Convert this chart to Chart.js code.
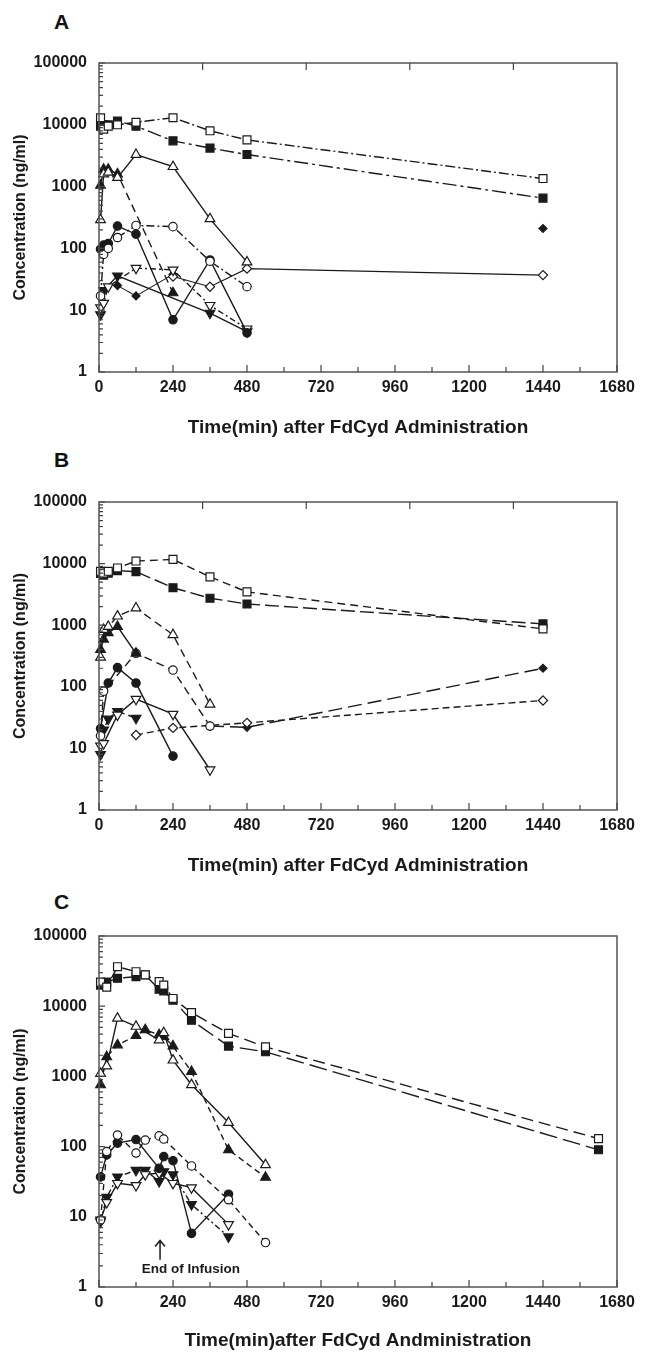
<!DOCTYPE html>
<html><head><meta charset="utf-8">
<script src="https://cdn.jsdelivr.net/npm/chart.js@4.4.0/dist/chart.umd.min.js"></script>
<style>
body{margin:0;background:#fff;width:645px;height:1353px;position:relative;overflow:hidden;font-family:"Liberation Sans",Arial,sans-serif;}
canvas{position:absolute;left:0;}
.lbl{position:absolute;font-weight:bold;font-size:21px;line-height:21px;color:#111;}
</style></head><body>
<div class="lbl" style="left:54px;top:11px">A</div>
<div class="lbl" style="left:54px;top:449px">B</div>
<div class="lbl" style="left:54px;top:891px">C</div>
<canvas id="cA" width="645" height="440" style="top:0px"></canvas>
<canvas id="cB" width="645" height="440" style="top:440px"></canvas>
<canvas id="cC" width="645" height="473" style="top:880px"></canvas>
<script>
// ---------- axis ticks ----------
const TICK_X = [0, 240, 480, 720, 960, 1200, 1440, 1680];
const MINOR_X = [120, 360, 600, 840, 1080, 1320, 1560];
const TOP_TICKS = [336, 672, 1008, 1344];
const TICK_Y = [1, 10, 100, 1000, 10000, 100000];
const MINOR_MULT = [2, 3, 4, 5, 6, 7, 8, 9];

// ---------- Panel A ----------
const timeA = [5, 15, 30, 60, 120, 240, 360, 480, 1440];
const aOpenSquare   = [13000, 8500, 9500, 10000, 11000, 13000, 8000, 5700, 1350];
const aFilledSquare = [9500, 10000, 10000, 11500, 9500, 5500, 4200, 3300, 650];
const aOpenTri      = [290, 1600, 1700, 1400, 3300, 2100, 300, 60, null];
const aFilledTri    = [1050, 1900, 1900, 1600, null, 19, null, null, null];
const aOpenCircle   = [17, 80, 100, 150, 235, 225, 62, 24, null];
const aFilledCircle = [97, 113, 120, 230, 170, 7, 65, 4.3, null];
const aOpenDown     = [11, 13, 24, null, 48, 45, 12, 5, null];
const aFilledDown   = [8.5, 21, null, 36, null, null, 9, 4.5, null];
const aOpenDiamond  = [null, null, null, null, null, 35, 24, 47, 37];
const aFilledDiamond= [null, null, null, 25, 17, 38, null, null, 210];

// ---------- Panel B ----------
const timeB = [5, 15, 30, 60, 120, 240, 360, 480, 1440];
const bOpenSquare   = [7500, 7000, 7500, 8500, 11000, 11700, 6100, 3470, 870];
const bFilledSquare = [6900, 6500, 7000, 7700, 7400, 4060, 2740, 2210, 1050];
const bOpenTri      = [300, 850, 950, 1400, 1900, 700, 52, null, null];
const bFilledTri    = [400, 590, 750, 950, 350, null, null, null, null];
const bOpenCircle   = [16, 85, null, null, 350, 187, 23, null, null];
const bFilledCircle = [21, null, 115, 205, 115, 7.5, null, null, null];
const bOpenDown     = [11, 12, null, 35, 63, 36, 4.5, null, null];
const bFilledDown   = [8, 20, 30, 40, 31, null, null, null, null];
const bOpenDiamond  = [null, null, null, null, 16.5, 21.5, null, 26, 60];
const bFilledDiamond= [null, null, null, null, null, null, 23, 22, 200];

// ---------- Panel C ----------
const timeC = [5, 25, 60, 120, 150, 195, 210, 240, 300, 420, 540, 1620];
const cOpenSquare   = [22000, 18700, 36500, 31000, 28000, 22400, 20000, 12900, 8100, 4100, 2630, 130];
const cFilledSquare = [20000, 22000, 25000, 26300, 27800, 17400, 16500, 12200, 6300, 2700, 2240, 90];
const cOpenTri      = [1100, 1400, 6700, 5150, null, 3300, 4180, 1700, 760, 220, 55, null];
const cFilledTri    = [760, 1900, 2800, 3800, 4600, 3900, 3700, 2700, 1170, 90, 36.5, null];
const cOpenCircle   = [9, 85, 146, 81, 124, 142, 128, null, 53, 17.5, 4.3, null];
const cFilledCircle = [37, 76, 112, 126, null, 49, 72, 63, 5.8, 21, null, null];
const cFilledDown   = [8.5, 19, 37, 46, 46, 32, 44, 40, 15, 5.2, null, null];
const cOpenDown     = [9, 16, 30, 28, 40, 42, null, 30, 26, 7.8, null, null];

// annotation (data units)
const INFUSION_END = 198;
const ARROW_TIP = 4.6, ARROW_BASE = 2.45;
const NOTE_T = 298, NOTE_V = 1.8;

const FF = "'Liberation Sans', Arial, sans-serif";
const INK = '#1a1a1a';

function ser(xs, ys, shape, filled, dash, opt) {
  opt = opt || {};
  const r = {rect: 5.6, circle: 4.2, triangle: 5.6, rectRot: 4.6}[shape];
  return {
    data: xs.map((t, i) => ({x: t, y: ys[i]})),
    pointStyle: shape,
    rotation: opt.rot || 0,
    pointRadius: opt.r || r,
    pointBorderWidth: 1.2,
    pointBorderColor: INK,
    pointBackgroundColor: filled ? INK : '#fff',
    borderColor: INK,
    borderWidth: opt.w || 1.4,
    borderDash: dash,
    spanGaps: opt.span === undefined ? true : opt.span,
    fill: false,
    tension: 0,
    clip: false
  };
}

const frameTicks = {
  id: 'frameTicks',
  afterDraw(chart, args, o) {
    const {ctx, chartArea: {left, right, top, bottom}, scales: {x, y}} = chart;
    ctx.save();
    ctx.strokeStyle = '#555';
    ctx.lineWidth = 1.5;
    ctx.strokeRect(left, top, right - left, bottom - top);
    ctx.lineWidth = 1.2;
    ctx.strokeStyle = '#444';
    ctx.beginPath();
    TICK_X.forEach(v => { const p = x.getPixelForValue(v); ctx.moveTo(p, bottom); ctx.lineTo(p, bottom - 7); });
    MINOR_X.forEach(v => { const p = x.getPixelForValue(v); ctx.moveTo(p, bottom); ctx.lineTo(p, bottom - 5); });
    if (o.top) TOP_TICKS.forEach(v => { const p = x.getPixelForValue(v); ctx.moveTo(p, top); ctx.lineTo(p, top + 7); });
    TICK_Y.forEach((d, i) => {
      const p = y.getPixelForValue(d); ctx.moveTo(left, p); ctx.lineTo(left + 6, p);
      if (i < TICK_Y.length - 1) MINOR_MULT.forEach(m => {
        const q = y.getPixelForValue(m * d); ctx.moveTo(left, q); ctx.lineTo(left + 4, q);
      });
    });
    ctx.stroke();
    ctx.restore();
  }
};

const infusion = {
  id: 'infusion',
  afterDraw(chart, args, o) {
    if (!o.on) return;
    const {ctx, scales: {x, y}} = chart;
    const px = x.getPixelForValue(INFUSION_END);
    const yt = y.getPixelForValue(ARROW_TIP), yb = y.getPixelForValue(ARROW_BASE);
    ctx.save();
    ctx.strokeStyle = INK; ctx.lineWidth = 1.5;
    ctx.beginPath();
    ctx.moveTo(px, yb); ctx.lineTo(px, yt);
    ctx.moveTo(px - 5, yt + 6); ctx.lineTo(px, yt); ctx.lineTo(px + 5, yt + 6);
    ctx.stroke();
    ctx.fillStyle = INK;
    ctx.font = "bold 13.5px " + FF;
    ctx.textAlign = 'center'; ctx.textBaseline = 'middle';
    ctx.fillText('End of Infusion', x.getPixelForValue(NOTE_T), y.getPixelForValue(NOTE_V));
    ctx.restore();
  }
};

function build(id, datasets, cfg) {
  const titleSize = 19, lh = titleSize * 1.2;
  const padB = Math.max(0, cfg.height - cfg.titleCenter - lh / 2);
  return new Chart(document.getElementById(id), {
    type: 'line',
    data: {datasets},
    options: {
      responsive: false,
      animation: false,
      devicePixelRatio: 1,
      layout: {padding: {top: cfg.plotTop, right: 28, left: 0, bottom: 0}},
      plugins: {legend: {display: false}, tooltip: {enabled: false},
        frameTicks: {top: cfg.topTicks}, infusion: {on: !!cfg.note}},
      scales: {
        x: {
          type: 'linear', min: 0, max: 1680,
          afterBuildTicks: s => { s.ticks = TICK_X.map(v => ({value: v})); },
          ticks: {color: INK, font: {family: FF, size: 16, weight: 'bold'}, padding: 6, maxRotation: 0, autoSkip: false, callback: v => String(v)},
          grid: {display: false, drawTicks: false}, border: {display: false},
          title: {display: true, text: cfg.title, color: INK, font: {family: FF, size: titleSize, weight: 'bold'}, padding: {top: 0, bottom: padB}},
          afterFit: s => { s.height = cfg.height - cfg.plotBottom; }
        },
        y: {
          type: 'logarithmic', min: 1, max: 100000,
          afterBuildTicks: s => { s.ticks = TICK_Y.map(v => ({value: v})); },
          ticks: {color: INK, font: {family: FF, size: 16, weight: 'bold'}, padding: 12, autoSkip: false, callback: v => String(v)},
          grid: {display: false, drawTicks: false}, border: {display: false},
          title: {display: true, text: 'Concentration (ng/ml)', color: INK, font: {family: FF, size: 16, weight: 'bold'}, padding: {top: 10.5, bottom: 0}},
          afterFit: s => { s.width = 99; }
        }
      }
    },
    plugins: [frameTicks, infusion]
  });
}

const DD = [10, 3, 2, 3], DDL = [14, 4, 3, 4], DASH = [8, 5], LDASH = [14, 5];

build('cA', [
  ser(timeA, aOpenSquare, 'rect', false, DD),
  ser(timeA, aFilledSquare, 'rect', true, DDL),
  ser(timeA, aOpenTri, 'triangle', false, []),
  ser(timeA, aFilledTri, 'triangle', true, DASH),
  ser(timeA, aOpenCircle, 'circle', false, [8, 3, 2, 3]),
  ser(timeA, aFilledCircle, 'circle', true, []),
  ser(timeA, aOpenDown, 'triangle', false, [6, 3, 2, 3], {rot: 180}),
  ser(timeA, aFilledDown, 'triangle', true, [], {rot: 180}),
  ser(timeA, aOpenDiamond, 'rectRot', false, [], {w: 1.1}),
  ser(timeA, aFilledDiamond, 'rectRot', true, [], {w: 1.1, span: false, r: 4})
], {plotTop: 63, plotBottom: 372, height: 440, titleCenter: 428, title: 'Time(min) after FdCyd Administration', topTicks: true});

build('cB', [
  ser(timeB, bOpenSquare, 'rect', false, DASH),
  ser(timeB, bFilledSquare, 'rect', true, LDASH),
  ser(timeB, bOpenTri, 'triangle', false, DASH),
  ser(timeB, bFilledTri, 'triangle', true, []),
  ser(timeB, bOpenCircle, 'circle', false, DASH),
  ser(timeB, bFilledCircle, 'circle', true, []),
  ser(timeB, bOpenDown, 'triangle', false, [], {rot: 180}),
  ser(timeB, bFilledDown, 'triangle', true, [6, 4], {rot: 180}),
  ser(timeB, bOpenDiamond, 'rectRot', false, [7, 4]),
  ser(timeB, bFilledDiamond, 'rectRot', true, [14, 6], {r: 4})
], {plotTop: 62, plotBottom: 370, height: 440, titleCenter: 426, title: 'Time(min) after FdCyd Administration', topTicks: true});

build('cC', [
  ser(timeC, cOpenSquare, 'rect', false, [12, 6]),
  ser(timeC, cFilledSquare, 'rect', true, [18, 6]),
  ser(timeC, cOpenTri, 'triangle', false, []),
  ser(timeC, cFilledTri, 'triangle', true, [6, 4]),
  ser(timeC, cOpenCircle, 'circle', false, [6, 4]),
  ser(timeC, cFilledCircle, 'circle', true, []),
  ser(timeC, cOpenDown, 'triangle', false, [], {rot: 180}),
  ser(timeC, cFilledDown, 'triangle', true, [6, 3, 2, 3], {rot: 180})
], {plotTop: 56, plotBottom: 407, height: 473, titleCenter: 461, title: 'Time(min)after FdCyd Andministration', topTicks: false, note: true});
</script>
</body></html>
